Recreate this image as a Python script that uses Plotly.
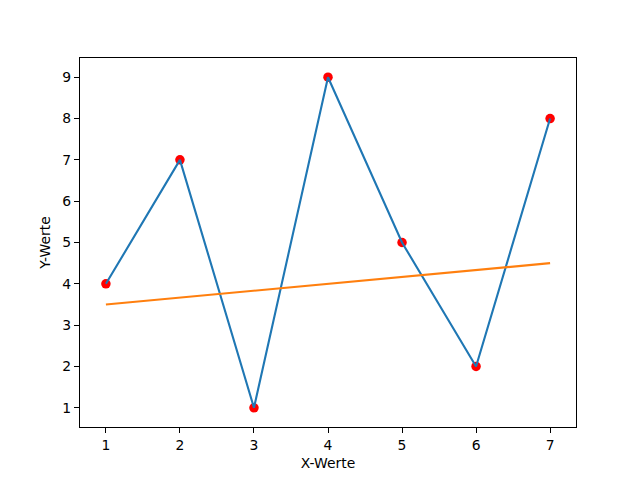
import plotly.graph_objects as go

x_vals = [1, 2, 3, 4, 5, 6, 7]
y_vals = [4, 7, 1, 9, 5, 2, 8]
trend_x = [1, 7]
trend_y = [3.5, 4.5]

font = dict(family="DejaVu Sans", size=13.9, color="black")

fig = go.Figure()
fig.add_trace(go.Scatter(x=x_vals, y=y_vals, mode="markers",
                         marker=dict(color="red", size=9.5, line=dict(width=0)),
                         showlegend=False))
fig.add_trace(go.Scatter(x=x_vals, y=y_vals, mode="lines",
                         line=dict(color="#1f77b4", width=2.1), showlegend=False))
fig.add_trace(go.Scatter(x=trend_x, y=trend_y, mode="lines",
                         line=dict(color="#ff7f0e", width=2.1), showlegend=False))

axis_common = dict(showgrid=False, zeroline=False, showline=True, mirror=True,
                   linecolor="black", linewidth=1.1, ticks="outside", ticklen=5,
                   tickwidth=1.1, tickcolor="black", tickfont=font)
fig.update_xaxes(range=[0.65, 7.35], tickvals=x_vals, title=dict(text="X-Werte", font=font, standoff=6),
                 **axis_common)
fig.update_yaxes(range=[0.535, 9.465], tickvals=list(range(1, 10)),
                 title=dict(text="Y-Werte", font=font, standoff=8), **axis_common)
fig.update_layout(width=640, height=480, margin=dict(l=72, r=72, t=50, b=61, autoexpand=False),
                  plot_bgcolor="white", paper_bgcolor="white", font=font)
fig.write_html("out.html")
